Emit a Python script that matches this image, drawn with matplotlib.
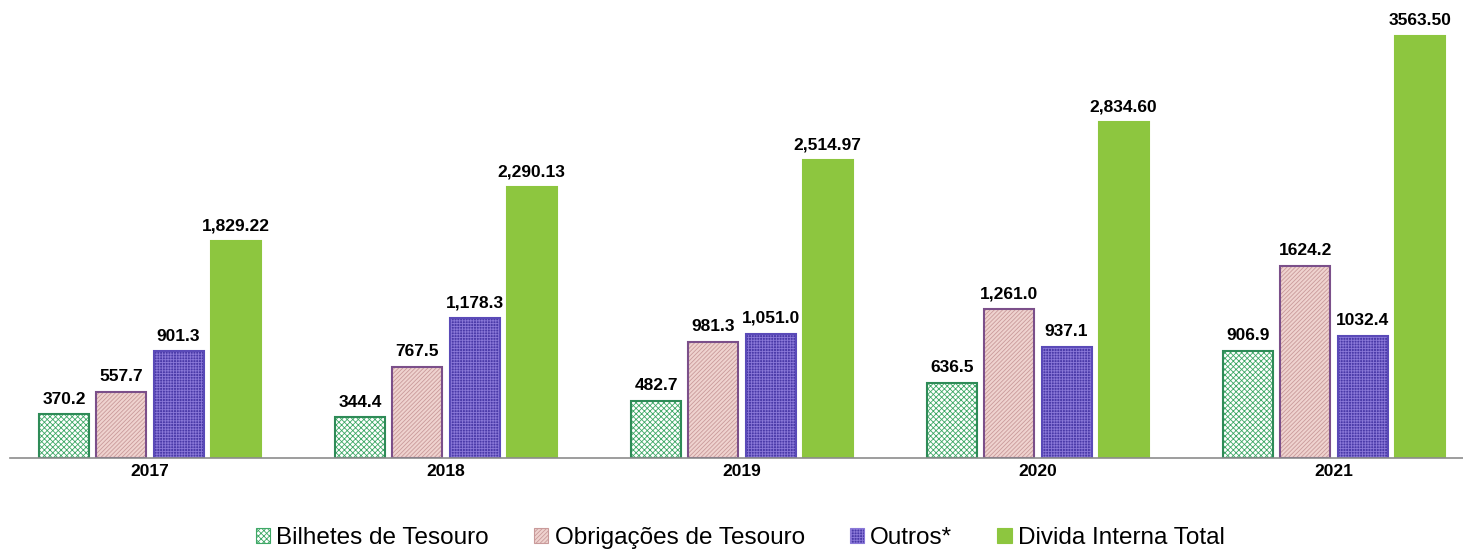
import matplotlib
matplotlib.use("Agg")
import matplotlib.pyplot as plt
import numpy as np
from matplotlib.patches import Patch

years = ["2017", "2018", "2019", "2020", "2021"]
series_names = ["Bilhetes de Tesouro", "Obrigações de Tesouro", "Outros*", "Divida Interna Total"]
bilhetes = [370.2, 344.4, 482.7, 636.5, 906.9]
obrigacoes = [557.7, 767.5, 981.3, 1261.0, 1624.2]
outros = [901.3, 1178.3, 1051.0, 937.1, 1032.4]
divida = [1829.22, 2290.13, 2514.97, 2834.60, 3563.50]
bilhetes_lbl = ["370.2", "344.4", "482.7", "636.5", "906.9"]
obrigacoes_lbl = ["557.7", "767.5", "981.3", "1,261.0", "1624.2"]
outros_lbl = ["901.3", "1,178.3", "1,051.0", "937.1", "1032.4"]
divida_lbl = ["1,829.22", "2,290.13", "2,514.97", "2,834.60", "3563.50"]

plt.rcParams["hatch.linewidth"] = 0.6

fig = plt.figure(figsize=(14.63, 5.5), dpi=100)
ax = fig.add_axes([10/1463, 92/550, 1 - 10/1463, 458/550])

x = np.arange(len(years))
w = 0.169
step = 0.193
offsets = [-1.5*step, -0.5*step, 0.5*step, 1.5*step]

styles = [
    dict(face="white", hatch="xxxxxx", hcol="#3ea866", edge="#2e8b57"),
    dict(face="#efd3cf", hatch="////////", hcol="#c99a9a", edge="#7b4f8a"),
    dict(face="#4a3aa8", hatch="++++++", hcol="#8a78d8", edge="#5a4ab8"),
    dict(face="#8dc63f", hatch="", hcol="#8dc63f", edge="#8dc63f"),
]
data = [bilhetes, obrigacoes, outros, divida]
labels = [bilhetes_lbl, obrigacoes_lbl, outros_lbl, divida_lbl]

lab_font = dict(family=["Liberation Sans", "DejaVu Sans"], fontweight="bold", fontsize=12.5)
for vals, lbls, off, st in zip(data, labels, offsets, styles):
    ax.bar(x + off, vals, w, color=st["face"], hatch=st["hatch"], edgecolor=st["hcol"], linewidth=0)
    ax.bar(x + off, vals, w, fill=False, edgecolor=st["edge"], linewidth=1.5)
    for xi, v, l in zip(x + off, vals, lbls):
        ax.annotate(l, (xi, v), xytext=(0, 5.5), textcoords="offset points",
                    ha="center", va="bottom", **lab_font)

ax.set_xlim(-0.473, 4.436)
ax.set_ylim(0, 3868)
for s in ["top", "right", "left"]:
    ax.spines[s].set_visible(False)
ax.spines["bottom"].set_color("#8c8c8c")
ax.spines["bottom"].set_linewidth(1.2)
ax.set_yticks([])
ax.set_xticks(x)
ax.set_xticklabels(years, **lab_font)
ax.tick_params(axis="x", length=0, pad=4)

handles = [Patch(facecolor=st["face"], hatch=st["hatch"], edgecolor=st["hcol"], linewidth=0.8)
           for st in styles]
leg = fig.legend(handles, series_names, loc="center", bbox_to_anchor=(0.506, 1 - 538/550),
                 ncol=4, frameon=False, handlelength=0.6, handleheight=0.6,
                 handletextpad=0.25, columnspacing=1.85,
                 prop=dict(family=["Liberation Sans", "DejaVu Sans"], size=17.5))

fig.savefig("out.png", dpi=100)
